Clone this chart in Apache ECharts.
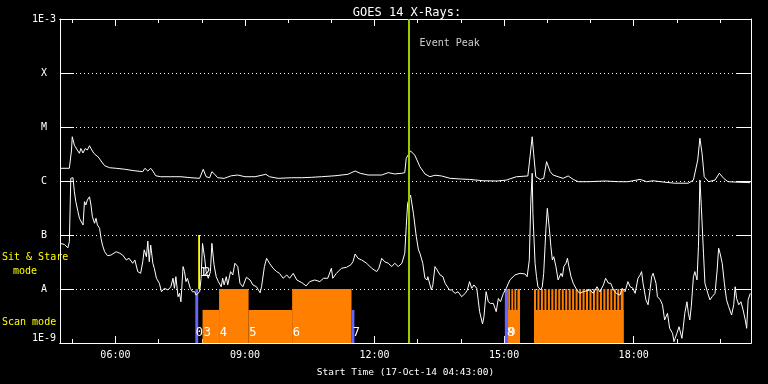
<!DOCTYPE html>
<html>
<head>
<meta charset="utf-8">
<script src="https://cdn.jsdelivr.net/npm/echarts@6/dist/echarts.min.js"></script>
<style>html,body{margin:0;padding:0;background:#000;}#chart{width:768px;height:384px;}</style>
</head>
<body>
<div id="chart"></div>
<script>
// ---------- data ----------
const chartTitle = 'GOES 14 X-Rays:';
const xTitle = 'Start Time (17-Oct-14 04:43:00)';
const startTime = '04:43';
const endTime = '20:43';
const majorTickLabels = ['06:00', '09:00', '12:00', '15:00', '18:00'];
const minorTickTimes = ['05:00', '07:00', '08:00', '10:00', '11:00', '13:00', '14:00', '16:00', '17:00', '19:00', '20:00'];
const yLevelLabels = { '-9': '1E-9', '-8': 'A', '-7': 'B', '-6': 'C', '-5': 'M', '-4': 'X', '-3': '1E-3' };
const eventPeakMin = 485;          // minutes after start
const eventPeakLabel = 'Event Peak';

// [minutes after start, flux W/m^2]
const longChannel = [[0,1.72e-6],[13,1.72e-6],[16,3.75e-6],[17,6.6e-6],[20,4.6e-6],[24,3.75e-6],[27,3.26e-6],[29,4.0e-6],[32,3.3e-6],[35,4.0e-6],[38,3.75e-6],[41,4.5e-6],[43,4.0e-6],[47,3.26e-6],[50,3.0e-6],[53,2.8e-6],[57,2.35e-6],[62,1.92e-6],[69,1.76e-6],[78,1.72e-6],[90,1.65e-6],[103,1.55e-6],[115,1.49e-6],[118,1.72e-6],[122,1.53e-6],[126,1.72e-6],[129,1.53e-6],[133,1.25e-6],[140,1.2e-6],[154,1.2e-6],[168,1.2e-6],[182,1.15e-6],[194,1.12e-6],[199,1.65e-6],[203,1.2e-6],[208,1.15e-6],[211,1.49e-6],[215,1.33e-6],[219,1.15e-6],[228,1.12e-6],[238,1.25e-6],[247,1.29e-6],[257,1.2e-6],[271,1.2e-6],[286,1.33e-6],[291,1.2e-6],[303,1.12e-6],[322,1.15e-6],[336,1.15e-6],[349,1.17e-6],[363,1.2e-6],[382,1.25e-6],[400,1.33e-6],[410,1.53e-6],[417,1.39e-6],[428,1.29e-6],[447,1.29e-6],[456,1.43e-6],[465,1.35e-6],[475,1.39e-6],[479,1.43e-6],[481,2.63e-6],[487,3.6e-6],[493,3.0e-6],[500,1.84e-6],[507,1.35e-6],[514,1.2e-6],[521,1.28e-6],[530,1.24e-6],[542,1.12e-6],[556,1.09e-6],[569,1.07e-6],[588,1.01e-6],[607,1.0e-6],[620,1.04e-6],[634,1.2e-6],[650,1.24e-6],[653,2.8e-6],[656,6.6e-6],[658,3.26e-6],[661,1.2e-6],[667,1.07e-6],[672,1.12e-6],[676,2.28e-6],[681,1.49e-6],[685,1.29e-6],[692,1.2e-6],[699,1.12e-6],[706,1.24e-6],[713,1.07e-6],[720,9.7e-7],[734,9.7e-7],[757,1.0e-6],[776,9.7e-7],[789,9.7e-7],[806,1.07e-6],[815,9.7e-7],[824,1.01e-6],[840,9.5e-7],[854,9.1e-7],[873,9.1e-7],[880,1.04e-6],[886,2.45e-6],[889,6.2e-6],[892,3.26e-6],[895,1.2e-6],[901,9.7e-7],[910,1.04e-6],[916,1.39e-6],[922,1.12e-6],[928,9.7e-7],[942,9.5e-7],[959,9.3e-7]];

const shortChannel = [[0,7.0e-8],[6,6.7e-8],[11,5.8e-8],[13,7.5e-8],[15,1.12e-6],[18,1.15e-6],[20,6.3e-7],[22,4.14e-7],[25,2.7e-7],[27,2.04e-7],[29,1.9e-7],[32,1.53e-7],[34,4.14e-7],[36,3.6e-7],[38,4.45e-7],[41,5.1e-7],[43,3.6e-7],[45,2.18e-7],[48,1.65e-7],[50,2.04e-7],[52,1.53e-7],[55,1.33e-7],[57,8.7e-8],[59,6.5e-8],[62,4.9e-8],[66,4.14e-8],[71,4.26e-8],[78,4.9e-8],[83,4.6e-8],[87,4.26e-8],[92,3.45e-8],[96,3.7e-8],[101,3.0e-8],[104,3.45e-8],[108,2.1e-8],[112,1.95e-8],[115,3.2e-8],[117,5.3e-8],[120,3.96e-8],[122,7.7e-8],[124,3.2e-8],[126,6.5e-8],[129,3.0e-8],[131,2.42e-8],[134,1.58e-8],[138,1.28e-8],[141,8.9e-9],[145,1.03e-8],[150,9.6e-9],[154,1.1e-8],[157,1.58e-8],[159,1.03e-8],[161,1.69e-8],[164,7.2e-9],[166,8.3e-9],[168,5.8e-9],[171,2.6e-8],[173,2.1e-8],[175,1.37e-8],[177,1.58e-8],[181,1.03e-8],[184,8.9e-9],[187,8.9e-9],[189,7.7e-9],[191,7.2e-9],[194,8.9e-9],[196,1.58e-8],[198,7.0e-8],[201,3.7e-8],[203,2.1e-8],[206,1.58e-8],[209,2.1e-8],[211,7.0e-8],[214,2.8e-8],[217,1.69e-8],[220,1.37e-8],[224,1.1e-8],[226,1.58e-8],[228,1.19e-8],[231,1.69e-8],[233,1.19e-8],[237,2.1e-8],[240,1.82e-8],[243,3.0e-8],[247,2.6e-8],[250,1.28e-8],[254,1.1e-8],[259,1.65e-8],[264,1.47e-8],[268,1.19e-8],[273,1.1e-8],[278,8.5e-9],[280,1.1e-8],[284,2.6e-8],[287,3.7e-8],[291,3.0e-8],[296,2.42e-8],[301,2.1e-8],[305,1.95e-8],[310,1.58e-8],[315,1.82e-8],[319,1.58e-8],[324,1.95e-8],[329,1.47e-8],[336,1.31e-8],[342,1.14e-8],[347,1.37e-8],[354,1.47e-8],[361,1.37e-8],[366,1.58e-8],[372,1.58e-8],[377,2.42e-8],[379,1.58e-8],[384,1.95e-8],[391,2.42e-8],[398,2.52e-8],[404,2.8e-8],[407,3.2e-8],[410,4.45e-8],[414,3.7e-8],[419,3.45e-8],[426,3.0e-8],[433,2.42e-8],[440,2.1e-8],[443,2.42e-8],[447,3.7e-8],[451,3.2e-8],[456,3.0e-8],[461,2.6e-8],[465,3.0e-8],[470,2.6e-8],[475,3.0e-8],[479,4.6e-8],[481,1.43e-7],[483,3.87e-7],[487,5.5e-7],[491,2.52e-7],[495,9.3e-8],[498,5.3e-8],[500,4.6e-8],[504,3.0e-8],[507,1.58e-8],[510,1.47e-8],[511,1.69e-8],[514,1.19e-8],[516,9.6e-9],[518,1.19e-8],[521,2.6e-8],[524,2.25e-8],[528,1.82e-8],[532,1.69e-8],[535,1.28e-8],[537,1.37e-8],[541,9.6e-9],[544,9.6e-9],[549,8.3e-9],[553,8.9e-9],[558,7.2e-9],[563,8.3e-9],[566,9.6e-9],[569,1.37e-8],[572,1.03e-8],[575,1.19e-8],[579,1.03e-8],[581,6.3e-9],[583,3.8e-9],[587,2.25e-9],[589,3.07e-9],[592,8.9e-9],[595,5.8e-9],[598,5.4e-9],[602,5.4e-9],[606,3.8e-9],[609,6.7e-9],[612,5.8e-9],[616,8.3e-9],[620,1.03e-8],[625,1.47e-8],[632,1.82e-8],[639,1.95e-8],[646,1.9e-8],[649,1.69e-8],[652,3.45e-8],[654,3.87e-7],[656,1.39e-6],[657,2.52e-7],[660,3.0e-8],[662,1.69e-8],[664,1.1e-8],[668,9.6e-9],[670,1.1e-8],[672,1.95e-8],[675,1.24e-7],[677,3.12e-7],[680,1.24e-7],[682,6.1e-8],[684,3.45e-8],[686,3.96e-8],[689,2.6e-8],[692,1.47e-8],[696,1.95e-8],[698,1.69e-8],[700,2.6e-8],[703,3.0e-8],[705,3.7e-8],[707,2.6e-8],[710,1.69e-8],[713,1.28e-8],[718,9.6e-9],[722,8.3e-9],[727,8.9e-9],[729,8.3e-9],[736,9.6e-9],[741,8.3e-9],[746,1.1e-8],[750,8.9e-9],[755,1.19e-8],[758,1.58e-8],[762,1.28e-8],[765,1.28e-8],[769,9.6e-9],[773,8.3e-9],[778,7.7e-9],[781,1.03e-8],[785,8.9e-9],[789,1.37e-8],[792,1.1e-8],[796,1.03e-8],[799,8.3e-9],[803,1.58e-8],[806,1.82e-8],[808,2.1e-8],[810,1.28e-8],[814,6.3e-9],[817,5.1e-9],[820,1.03e-8],[822,1.69e-8],[824,1.95e-8],[828,1.28e-8],[830,7.2e-9],[834,6.3e-9],[837,5.1e-9],[840,2.67e-9],[844,3.55e-9],[847,1.87e-9],[851,1.51e-9],[853,1.06e-9],[857,1.51e-9],[860,2.0e-9],[864,1.22e-9],[866,2.0e-9],[868,3.55e-9],[871,5.8e-9],[873,3.55e-9],[875,2.67e-9],[877,4.7e-9],[880,1.69e-8],[882,2.1e-8],[885,1.47e-8],[887,6.1e-8],[889,1.04e-6],[891,3.34e-7],[894,4.6e-8],[896,1.28e-8],[900,8.3e-9],[903,6.3e-9],[906,7.2e-9],[910,8.3e-9],[913,2.25e-8],[915,5.7e-8],[917,4.6e-8],[920,3.0e-8],[923,1.28e-8],[926,6.3e-9],[929,4.7e-9],[933,3.3e-9],[936,5.1e-9],[938,1.1e-8],[940,6.7e-9],[943,5.1e-9],[946,5.8e-9],[949,4.1e-9],[952,2.67e-9],[954,1.87e-9],[956,6.3e-9],[959,8.3e-9]];

// observing-mode blocks: [start min, end min, top flux, bottom flux]
const FLOOR = 1e-9, SCAN_LOW = 4.1e-9, SCAN_HIGH = 1e-8, STARE_TOP = 1e-7;
const blueBlocks = [[188, 192, SCAN_HIGH, FLOOR], [405, 409, SCAN_LOW, FLOOR], [618, 622.5, SCAN_HIGH, FLOOR]];
const yellowBlocks = [[192, 194.5, STARE_TOP, SCAN_HIGH]];
const orangeBlocks = [[198, 221, SCAN_LOW, FLOOR], [221, 262, SCAN_HIGH, FLOOR], [262, 322.5, SCAN_LOW, FLOOR], [322.5, 405, SCAN_HIGH, FLOOR], [622.5, 639, SCAN_LOW, FLOOR], [658.5, 783, SCAN_LOW, FLOOR]];
const orangeStripes = [[622.7,625.3],[627.1,629.6],[631.3,633.8],[635.5,639],[658.5,661.3],[663.3,666.1],[668.1,670.9],[673,675.8],[677.8,680.6],[682.6,685.4],[687.4,690.2],[692.2,695],[697.1,699.9],[701.9,704.7],[706.7,709.5],[711.5,714.3],[716.3,719.1],[721.2,724],[726,728.8],[730.8,733.6],[735.6,738.4],[740.4,743.2],[745.3,748.1],[750.1,752.9],[754.9,757.7],[759.7,762.5],[764.5,767.3],[769.4,772.2],[774.2,777],[779,783]];

// observation number labels: [min, flux]
const obsLabelText = ['0', '1', '2', '3', '4', '5', '6', '7', '8', '9'];
const obsLabelPos = [[188.6, 1.53e-9], [194.2, 2.0e-8], [199, 2.0e-8], [199.7, 1.53e-9], [222, 1.53e-9], [263, 1.53e-9], [323.4, 1.53e-9], [406.8, 1.53e-9], [621, 1.53e-9], [622.6, 1.53e-9]];

// ---------- helpers ----------
const FONT = 'DejaVu Sans Mono';
function hm(s) { const p = s.split(':').map(Number); return p[0] * 60 + p[1]; }
function fmtHM(v) { const h = Math.floor(v / 60), m = Math.round(v - h * 60); return String(h).padStart(2, '0') + ':' + String(m).padStart(2, '0'); }
const t0 = hm(startTime), t1 = hm(endTime);
const majorVals = majorTickLabels.map(hm);
const minorVals = minorTickTimes.map(hm);

function blockSeries(rows, color, z) {
  return {
    type: 'custom', silent: true, z: z, clip: true, xAxisIndex: 0, yAxisIndex: 0,
    encode: { x: [0, 1], y: [2, 3] },
    data: rows.map(r => [t0 + r[0], t0 + r[1], r[2], r[3]]),
    renderItem: function (params, api) {
      const a = api.coord([api.value(0), api.value(2)]);
      const b = api.coord([api.value(1), api.value(3)]);
      return { type: 'rect', shape: { x: a[0], y: a[1], width: b[0] - a[0], height: b[1] - a[1] }, style: { fill: color } };
    }
  };
}

const white = '#ffffff';
const xBase = { type: 'value', min: t0, max: t1, splitLine: { show: false },
  axisLine: { show: true, onZero: false, lineStyle: { color: white, width: 1 } } };

const chart = echarts.init(document.getElementById('chart'), null, { renderer: 'canvas' });
chart.setOption({
  backgroundColor: '#000000',
  animation: false,
  title: { text: chartTitle, left: 402, top: 2, textAlign: 'center',
    textStyle: { color: white, fontSize: 12, fontWeight: 'normal', fontFamily: FONT } },
  grid: { left: 60, right: 17, top: 19, bottom: 41, outerBoundsMode: 'none', containLabel: false },
  xAxis: [
    Object.assign({}, xBase, { position: 'bottom',
      axisTick: { show: true, inside: true, length: 7, customValues: majorVals, lineStyle: { color: white } },
      axisLabel: { show: true, customValues: majorVals, formatter: v => fmtHM(v), color: white, fontSize: 10, fontFamily: FONT, margin: 7 },
      name: xTitle, nameLocation: 'middle', nameGap: 25,
      nameTextStyle: { color: white, fontSize: 9.5, fontFamily: FONT } }),
    Object.assign({}, xBase, { position: 'bottom',
      axisTick: { show: true, inside: true, length: 4, customValues: minorVals, lineStyle: { color: white } },
      axisLabel: { show: false } }),
    Object.assign({}, xBase, { position: 'top',
      axisTick: { show: true, inside: true, length: 7, customValues: majorVals, lineStyle: { color: white } },
      axisLabel: { show: false } }),
    Object.assign({}, xBase, { position: 'top',
      axisTick: { show: true, inside: true, length: 4, customValues: minorVals, lineStyle: { color: white } },
      axisLabel: { show: false } })
  ],
  yAxis: [
    { type: 'log', logBase: 10, min: 1e-9, max: 1e-3, position: 'left',
      axisLine: { show: true, lineStyle: { color: white, width: 1 } },
      axisTick: { show: true, inside: true, length: 14, lineStyle: { color: white } },
      axisLabel: { show: true, color: white, fontSize: 10, fontFamily: FONT, align: 'center', margin: 16,
        verticalAlignMinLabel: 'bottom', verticalAlignMaxLabel: 'top',
        formatter: v => yLevelLabels[String(Math.round(Math.log10(v)))] || '' },
      splitLine: { show: true, lineStyle: { color: white, width: 1, type: [1, 3] } },
      minorTick: { show: false }, minorSplitLine: { show: false } },
    { type: 'log', logBase: 10, min: 1e-9, max: 1e-3, position: 'right',
      axisLine: { show: true, lineStyle: { color: white, width: 1 } },
      axisTick: { show: true, inside: true, length: 15, lineStyle: { color: white } },
      axisLabel: { show: false }, splitLine: { show: false } }
  ],
  graphic: [
    { type: 'text', left: 2, top: 252, style: { text: 'Sit & Stare', fill: '#ffff00', font: '10px ' + FONT } },
    { type: 'text', left: 13, top: 266, style: { text: 'mode', fill: '#ffff00', font: '10px ' + FONT } },
    { type: 'text', left: 2, top: 317, style: { text: 'Scan mode', fill: '#ffff00', font: '10px ' + FONT } }
  ],
  series: [
    blockSeries(orangeBlocks, '#ff8000', 1),
    blockSeries(orangeStripes.map(s => [s[0], s[1], SCAN_HIGH, FLOOR]), '#ff8000', 1),
    blockSeries(blueBlocks, '#6666ff', 1),
    blockSeries(yellowBlocks, '#ffff00', 1),
    { type: 'line', xAxisIndex: 0, yAxisIndex: 0, z: 3, silent: true, showSymbol: false, symbol: 'none',
      lineStyle: { color: white, width: 1 }, data: longChannel.map(p => [t0 + p[0], p[1]]) },
    { type: 'line', xAxisIndex: 0, yAxisIndex: 0, z: 3, silent: true, showSymbol: false, symbol: 'none',
      lineStyle: { color: white, width: 1 }, data: shortChannel.map(p => [t0 + p[0], p[1]]) },
    { type: 'custom', xAxisIndex: 0, yAxisIndex: 0, z: 4, silent: true, clip: false,
      data: obsLabelPos.map(p => [t0 + p[0], p[1]]),
      renderItem: function (params, api) {
        const p = api.coord([api.value(0), api.value(1)]);
        return { type: 'text', x: p[0], y: p[1],
          style: { text: obsLabelText[params.dataIndex], fill: white, fontSize: 12, fontFamily: FONT,
            align: 'left', verticalAlign: 'middle', textAlign: 'left', textVerticalAlign: 'middle' } };
      } },
    { type: 'scatter', xAxisIndex: 0, yAxisIndex: 0, z: 5, silent: true, symbolSize: 1,
      itemStyle: { color: 'rgba(0,0,0,0)' },
      data: [[t0 + eventPeakMin, 3.6e-4]],
      label: { show: true, position: 'right', distance: 10, formatter: eventPeakLabel, color: white, fontSize: 10, fontFamily: FONT },
      markLine: { silent: true, symbol: ['none', 'none'], label: { show: false },
        lineStyle: { color: '#99cc00', width: 2, type: 'solid' },
        data: [{ xAxis: t0 + eventPeakMin }] } }
  ]
});
</script>
</body>
</html>
